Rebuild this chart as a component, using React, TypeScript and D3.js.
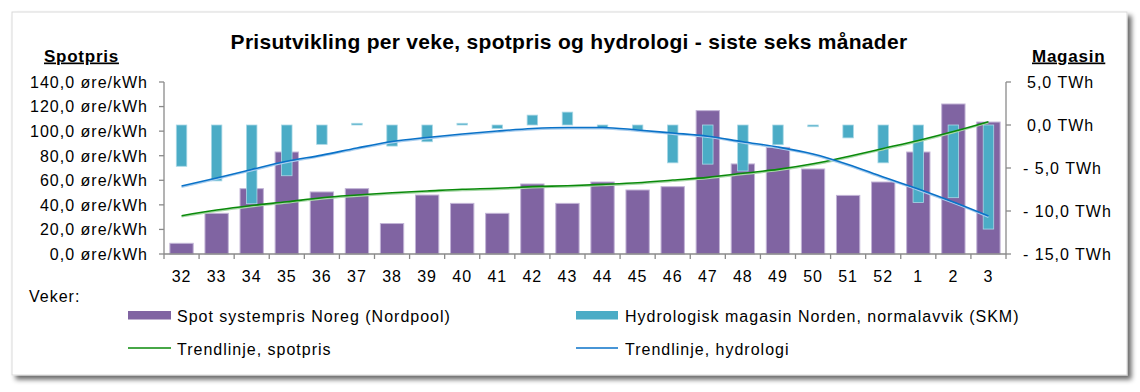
import React from "react";
import * as d3 from "d3";

const weeks = ["32","33","34","35","36","37","38","39","40","41","42","43","44","45","46","47","48","49","50","51","52","1","2","3"];
const spotPrice = [8.7,33.1,53.2,83.0,50.5,53.2,24.8,48.0,41.2,33.1,57.0,41.2,58.6,52.1,54.8,116.7,73.3,86.8,69.2,47.7,58.6,83.0,122.1,107.4];
const hydroDeviation = [-4.8,-6.5,-9.15,-5.9,-2.25,0.2,-2.45,-1.95,0.2,-0.4,1.15,1.5,-0.35,-0.6,-4.4,-4.55,-5.35,-2.3,-0.2,-1.5,-4.4,-9.0,-8.45,-12.1];
const spotTrend = [31.2,35.8,39.5,42.5,45.8,48.0,49.9,51.3,52.7,53.5,54.8,55.6,56.7,58.0,60.2,62.4,65.7,68.9,73.4,79.4,85.9,92.4,99.7,107.7];
const hydroTrend = [-7.09,-6.16,-5.17,-4.22,-3.5,-2.67,-1.92,-1.45,-1.05,-0.7,-0.41,-0.29,-0.29,-0.58,-0.93,-1.3,-1.95,-2.56,-3.37,-4.59,-6.05,-7.44,-8.95,-10.58];
const leftTicks = [0,20,40,60,80,100,120,140];
const rightTicks = [5,0,-5,-10,-15];

const title = "Prisutvikling per veke, spotpris og hydrologi - siste seks månader";
const leftAxisTitle = "Spotpris";
const rightAxisTitle = "Magasin";
const xAxisTitle = "Veker:";
const legendSpot = "Spot systempris Noreg (Nordpool)";
const legendHydro = "Hydrologisk magasin Norden, normalavvik (SKM)";
const legendSpotTrend = "Trendlinje, spotpris";
const legendHydroTrend = "Trendlinje, hydrologi";

const PURPLE = "#8064A2";
const PURPLE_EDGE = "#c2b4d6";
const CYAN = "#4BACC6";
const CYAN_EDGE = "#a9d8e6";
const GREEN = "#0a8a0a";
const BLUE = "#0a72c8";
const AXIS = "#8a8a8a";
const FONT = "'Liberation Sans', Arial, sans-serif";

const fmt1 = d3.format(".1f");
const comma = (v: number) => fmt1(v).replace(".", ",");

export default function App() {
  const W = 1140, H = 392;
  const left = 164, right = 1006, top = 82, bottom = 254;
  const x = d3.scaleBand<string>().domain(weeks).range([left, right]).paddingInner(0).paddingOuter(0);
  const yL = d3.scaleLinear().domain([0, 140]).range([bottom, top]);
  const yR = d3.scaleLinear().domain([-15, 5]).range([bottom, top]);
  const bw = x.bandwidth();
  const cx = (w: string) => (x(w) as number) + bw / 2;

  const spotLine = d3.line<number>().x((_, i) => cx(weeks[i])).y((v) => yL(v)).curve(d3.curveMonotoneX);
  const hydroLine = d3.line<number>().x((_, i) => cx(weeks[i])).y((v) => yR(v)).curve(d3.curveMonotoneX);

  const tickFont = { fontFamily: FONT, fontSize: 16, letterSpacing: 1.0, fill: "#000" } as const;
  const legFont = { fontFamily: FONT, fontSize: 16, letterSpacing: 1.0, fill: "#000" } as const;

  return (
    <svg width={W} height={H} style={{ position: "absolute", left: 0, top: 0, background: "#fff" }}>
      <defs>
        <filter id="shadow" x="-5%" y="-5%" width="115%" height="120%">
          <feGaussianBlur in="SourceAlpha" stdDeviation="2.5" />
          <feOffset dx="4" dy="4" result="ob" />
          <feComponentTransfer><feFuncA type="linear" slope="0.6" /></feComponentTransfer>
          <feMerge><feMergeNode /><feMergeNode in="SourceGraphic" /></feMerge>
        </filter>
      </defs>
      <rect x={12} y={12} width={1115} height={363} fill="#fff" stroke="#d9d9d9" strokeWidth={1} filter="url(#shadow)" />

      <text x={569} y={49} textAnchor="middle" style={{ fontFamily: FONT, fontSize: 21, fontWeight: "bold", letterSpacing: 0.3 }}>{title}</text>
      <text x={44} y={61.5} style={{ fontFamily: FONT, fontSize: 17, fontWeight: "bold", letterSpacing: 0.75, textDecoration: "underline" }}>{leftAxisTitle}</text>
      <text x={1032} y={61.5} style={{ fontFamily: FONT, fontSize: 17, fontWeight: "bold", letterSpacing: 0.75, textDecoration: "underline" }}>{rightAxisTitle}</text>

      {/* spot bars */}
      {spotPrice.map((v, i) => {
        const w = bw * 0.665;
        return (
          <rect key={"s" + i} x={cx(weeks[i]) - w / 2} y={yL(v)} width={w} height={yL(0) - yL(v)}
            fill={PURPLE} stroke={PURPLE_EDGE} strokeWidth={1} />
        );
      })}
      {/* hydro bars */}
      {hydroDeviation.map((v, i) => {
        const w = 10.5;
        const y0 = yR(0), y1 = yR(v);
        return (
          <rect key={"h" + i} x={cx(weeks[i]) - w / 2} y={Math.min(y0, y1)} width={w} height={Math.max(Math.abs(y1 - y0), 1)}
            fill={CYAN} stroke={CYAN_EDGE} strokeWidth={0.8} />
        );
      })}

      {/* trend lines */}
      <path d={spotLine(spotTrend) || ""} fill="none" stroke="#a8d8a8" strokeWidth={1.5} transform="translate(0,1.2)" />
      <path d={spotLine(spotTrend) || ""} fill="none" stroke={GREEN} strokeWidth={1.6} />
      <path d={hydroLine(hydroTrend) || ""} fill="none" stroke="#a8cdee" strokeWidth={1.5} transform="translate(0,1.2)" />
      <path d={hydroLine(hydroTrend) || ""} fill="none" stroke={BLUE} strokeWidth={1.6} />

      {/* axes */}
      <line x1={left} x2={left} y1={top} y2={bottom} stroke={AXIS} strokeWidth={1.3} />
      <line x1={right} x2={right} y1={top} y2={bottom} stroke={AXIS} strokeWidth={1.3} />
      <line x1={left} x2={right} y1={bottom} y2={bottom} stroke={AXIS} strokeWidth={1.3} />
      {leftTicks.map((t) => (
        <g key={"lt" + t}>
          <line x1={left - 5} x2={left} y1={yL(t)} y2={yL(t)} stroke={AXIS} strokeWidth={1.3} />
          <text x={148} y={yL(t) + 5.8} textAnchor="end" style={tickFont}>{comma(t) + " øre/kWh"}</text>
        </g>
      ))}
      {rightTicks.map((t) => (
        <g key={"rt" + t}>
          <line x1={right} x2={right + 5} y1={yR(t)} y2={yR(t)} stroke={AXIS} strokeWidth={1.3} />
          <text x={t < 0 ? 1023 : 1027} y={yR(t) + 5.8} textAnchor="start" style={tickFont}>
            {t < 0 ? "- " + comma(-t) + " TWh" : comma(t) + " TWh"}
          </text>
        </g>
      ))}
      {weeks.map((w) => (
        <g key={"xt" + w}>
          <line x1={x(w) as number} x2={x(w) as number} y1={bottom} y2={bottom + 5} stroke={AXIS} strokeWidth={1.3} />
          <text x={cx(w)} y={281.5} textAnchor="middle" style={tickFont}>{w}</text>
        </g>
      ))}
      <line x1={right} x2={right} y1={bottom} y2={bottom + 5} stroke={AXIS} strokeWidth={1.3} />

      {/* x axis title and legend */}
      <text x={29} y={301.5} style={legFont}>{xAxisTitle}</text>
      <rect x={128} y={311} width={43} height={8.5} fill={PURPLE} />
      <text x={177} y={321.5} style={legFont}>{legendSpot}</text>
      <rect x={576} y={311} width={42} height={8.5} fill={CYAN} />
      <text x={625} y={321.5} style={legFont}>{legendHydro}</text>
      <line x1={128} x2={171} y1={348} y2={348} stroke={GREEN} strokeWidth={1.6} />
      <text x={177} y={354.5} style={legFont}>{legendSpotTrend}</text>
      <line x1={576} x2={618} y1={348} y2={348} stroke={BLUE} strokeWidth={1.6} />
      <text x={625} y={354.5} style={legFont}>{legendHydroTrend}</text>
    </svg>
  );
}
